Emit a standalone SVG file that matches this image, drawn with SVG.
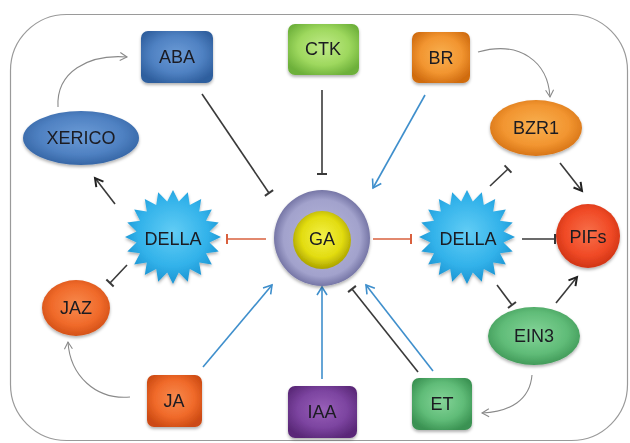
<svg xmlns="http://www.w3.org/2000/svg" xmlns:xlink="http://www.w3.org/1999/xlink" width="630" height="443" viewBox="0 0 630 443">
<defs>
<style>
.lbl{font-family:"Liberation Sans","Open Sans",Arial,sans-serif;font-size:18px;fill:#1b1b22;text-anchor:middle;dominant-baseline:central}
.blue{stroke:#3f8fcc;stroke-width:1.6;fill:none}
.blk{stroke:#3a3a3a;stroke-width:1.6;fill:none}
.red{stroke:#d9603e;stroke-width:1.6;fill:none}
.gry{stroke:#8a8a8a;stroke-width:1.1;fill:none}
.node{filter:url(#sh)}
</style>
<filter id="sh" x="-20%" y="-20%" width="140%" height="150%"><feDropShadow dx="0" dy="2" stdDeviation="1.5" flood-color="#000" flood-opacity="0.3"/></filter>
<radialGradient id="gBlue" cx="0.5" cy="0.45" r="0.6"><stop offset="0" stop-color="#6b9bd6"/><stop offset="0.6" stop-color="#4f81c2"/><stop offset="1" stop-color="#2f5f9e"/></radialGradient>
<radialGradient id="gLgreen" cx="0.5" cy="0.45" r="0.6"><stop offset="0" stop-color="#c0ea88"/><stop offset="0.6" stop-color="#9ed85e"/><stop offset="1" stop-color="#6db03a"/></radialGradient>
<radialGradient id="gOrange" cx="0.5" cy="0.45" r="0.6"><stop offset="0" stop-color="#f8b050"/><stop offset="0.6" stop-color="#f29530"/><stop offset="1" stop-color="#d06c10"/></radialGradient>
<radialGradient id="gRedOr" cx="0.5" cy="0.45" r="0.6"><stop offset="0" stop-color="#f78a4e"/><stop offset="0.6" stop-color="#f06a2a"/><stop offset="1" stop-color="#cc4a12"/></radialGradient>
<radialGradient id="gRed" cx="0.5" cy="0.45" r="0.6"><stop offset="0" stop-color="#f7704a"/><stop offset="0.6" stop-color="#f04a26"/><stop offset="1" stop-color="#c82e10"/></radialGradient>
<radialGradient id="gPurple" cx="0.5" cy="0.45" r="0.6"><stop offset="0" stop-color="#9860b8"/><stop offset="0.6" stop-color="#7c44a0"/><stop offset="1" stop-color="#5a2878"/></radialGradient>
<radialGradient id="gGreen" cx="0.5" cy="0.45" r="0.6"><stop offset="0" stop-color="#84d498"/><stop offset="0.6" stop-color="#60bc78"/><stop offset="1" stop-color="#3a9252"/></radialGradient>
<radialGradient id="gCyan" cx="0.5" cy="0.45" r="0.6"><stop offset="0" stop-color="#62cdf5"/><stop offset="0.6" stop-color="#32b2ea"/><stop offset="1" stop-color="#168ccc"/></radialGradient>
<radialGradient id="gLav" cx="0.5" cy="0.5" r="0.5"><stop offset="0" stop-color="#b8b8dc"/><stop offset="0.8" stop-color="#a2a2cc"/><stop offset="1" stop-color="#7676a6"/></radialGradient>
<radialGradient id="gYel" cx="0.5" cy="0.45" r="0.55"><stop offset="0" stop-color="#f4f24a"/><stop offset="0.65" stop-color="#e2dc10"/><stop offset="1" stop-color="#aaa200"/></radialGradient>
<polygon id="star" points="48,0 36.5,5.6 45.7,14.5 33,16.3 38.8,27.6 26.2,25.5 28.2,38 16.8,32.1 14.8,44.7 5.8,35.6 0,47 -5.8,35.6 -14.8,44.7 -16.8,32.1 -28.2,38 -26.2,25.5 -38.8,27.6 -33,16.3 -45.7,14.5 -36.5,5.6 -48,0 -36.5,-5.6 -45.7,-14.5 -33,-16.3 -38.8,-27.6 -26.2,-25.5 -28.2,-38 -16.8,-32.1 -14.8,-44.7 -5.8,-35.6 0,-47 5.8,-35.6 14.8,-44.7 16.8,-32.1 28.2,-38 26.2,-25.5 38.8,-27.6 33,-16.3 45.7,-14.5 36.5,-5.6"/>
<marker id="aBlue" markerUnits="userSpaceOnUse" markerWidth="20" markerHeight="20" viewBox="-10 -10 20 20" refX="0" refY="0" orient="auto"><path d="M-8,-5 L0,0 L-8,5" fill="none" stroke="#3f8fcc" stroke-width="1.6"/></marker>
<marker id="aBlk" markerUnits="userSpaceOnUse" markerWidth="20" markerHeight="20" viewBox="-10 -10 20 20" refX="0" refY="0" orient="auto"><path d="M-8,-4.5 L0,0 L-8,4.5" fill="none" stroke="#222" stroke-width="2"/></marker>
<marker id="aGry" markerUnits="userSpaceOnUse" markerWidth="20" markerHeight="20" viewBox="-10 -10 20 20" refX="0" refY="0" orient="auto"><path d="M-7,-4 L0,0 L-7,4" fill="none" stroke="#8a8a8a" stroke-width="1.1"/></marker>
<marker id="tBlk" markerUnits="userSpaceOnUse" markerWidth="20" markerHeight="20" viewBox="-10 -10 20 20" refX="0" refY="0" orient="auto"><path d="M0,-5 L0,5" stroke="#3a3a3a" stroke-width="2"/></marker>
<marker id="tRed" markerUnits="userSpaceOnUse" markerWidth="20" markerHeight="20" viewBox="-10 -10 20 20" refX="0" refY="0" orient="auto"><path d="M0,-5 L0,5" stroke="#d9603e" stroke-width="2"/></marker>
</defs>
<rect x="10.5" y="14.5" width="617" height="426" rx="56" fill="#fff" stroke="#9a9a9a" stroke-width="1.2"/>
<g id="connectors">
<path class="gry" d="M58,107 C56,72 88,54 127,57" marker-end="url(#aGry)"/>
<path class="blk" d="M202,94 L269,193" marker-end="url(#tBlk)"/>
<path class="blk" d="M322,90 L322,174" marker-end="url(#tBlk)"/>
<path class="blue" d="M425,95 L373,188" marker-end="url(#aBlue)"/>
<path class="gry" d="M478,52 C520,40 548,62 550,97" marker-end="url(#aGry)"/>
<path class="blk" d="M490,186 L508,169" marker-end="url(#tBlk)"/>
<path class="blk" d="M560,163 L582,191" marker-end="url(#aBlk)"/>
<path class="blk" d="M115,204 L95,178" marker-end="url(#aBlk)"/>
<path class="red" d="M266,239 L227,239" marker-end="url(#tRed)"/>
<path class="red" d="M373,239 L411,239" marker-end="url(#tRed)"/>
<path class="blk" d="M522,239 L555,239" marker-end="url(#tBlk)"/>
<path class="blk" d="M127,265 L110,283" marker-end="url(#tBlk)"/>
<path class="gry" d="M130,397 C95,400 70,375 68,342" marker-end="url(#aGry)"/>
<path class="blue" d="M203,367 L272,285" marker-end="url(#aBlue)"/>
<path class="blue" d="M322,379 L322,287" marker-end="url(#aBlue)"/>
<path class="blk" d="M418,372 L352,289" marker-end="url(#tBlk)"/>
<path class="blue" d="M433,371 L366,285" marker-end="url(#aBlue)"/>
<path class="blk" d="M497,285 L512,305" marker-end="url(#tBlk)"/>
<path class="blk" d="M556,303 L577,277" marker-end="url(#aBlk)"/>
<path class="gry" d="M532,375 C530,400 510,412 482,413" marker-end="url(#aGry)"/>
</g>
<g id="ABA" class="node"><rect x="141" y="31" width="72" height="52" rx="7" fill="url(#gBlue)"/><text class="lbl" x="177" y="57">ABA</text></g>
<g id="XERICO" class="node"><ellipse cx="81" cy="138" rx="58" ry="27" fill="url(#gBlue)"/><text class="lbl" x="81" y="138">XERICO</text></g>
<g id="CTK" class="node"><rect x="288" y="24" width="71" height="51" rx="7" fill="url(#gLgreen)"/><text class="lbl" x="323" y="49">CTK</text></g>
<g id="BR" class="node"><rect x="412" y="32" width="58" height="51" rx="7" fill="url(#gOrange)"/><text class="lbl" x="441" y="58">BR</text></g>
<g id="BZR1" class="node"><ellipse cx="536" cy="128" rx="46" ry="28" fill="url(#gOrange)"/><text class="lbl" x="536" y="128">BZR1</text></g>
<g id="DELLA_L" class="node"><use href="#star" transform="translate(173,237)" fill="url(#gCyan)"/><text class="lbl" x="173" y="239">DELLA</text></g>
<g id="GA" class="node"><circle cx="322" cy="238" r="48" fill="url(#gLav)"/><circle cx="322" cy="240" r="29" fill="url(#gYel)"/><text class="lbl" x="322" y="239">GA</text></g>
<g id="DELLA_R" class="node"><use href="#star" transform="translate(467,237)" fill="url(#gCyan)"/><text class="lbl" x="468" y="239">DELLA</text></g>
<g id="PIFs" class="node"><circle cx="588" cy="236" r="32" fill="url(#gRed)"/><text class="lbl" x="588" y="237">PIFs</text></g>
<g id="JAZ" class="node"><ellipse cx="76" cy="308" rx="34" ry="28" fill="url(#gRedOr)"/><text class="lbl" x="76" y="308">JAZ</text></g>
<g id="JA" class="node"><rect x="147" y="375" width="55" height="52" rx="7" fill="url(#gRedOr)"/><text class="lbl" x="174" y="401">JA</text></g>
<g id="IAA" class="node"><rect x="288" y="386" width="69" height="52" rx="7" fill="url(#gPurple)"/><text class="lbl" x="322" y="412">IAA</text></g>
<g id="ET" class="node"><rect x="412" y="378" width="60" height="52" rx="7" fill="url(#gGreen)"/><text class="lbl" x="442" y="404">ET</text></g>
<g id="EIN3" class="node"><ellipse cx="534" cy="336" rx="46" ry="29" fill="url(#gGreen)"/><text class="lbl" x="534" y="336">EIN3</text></g>
</svg>
